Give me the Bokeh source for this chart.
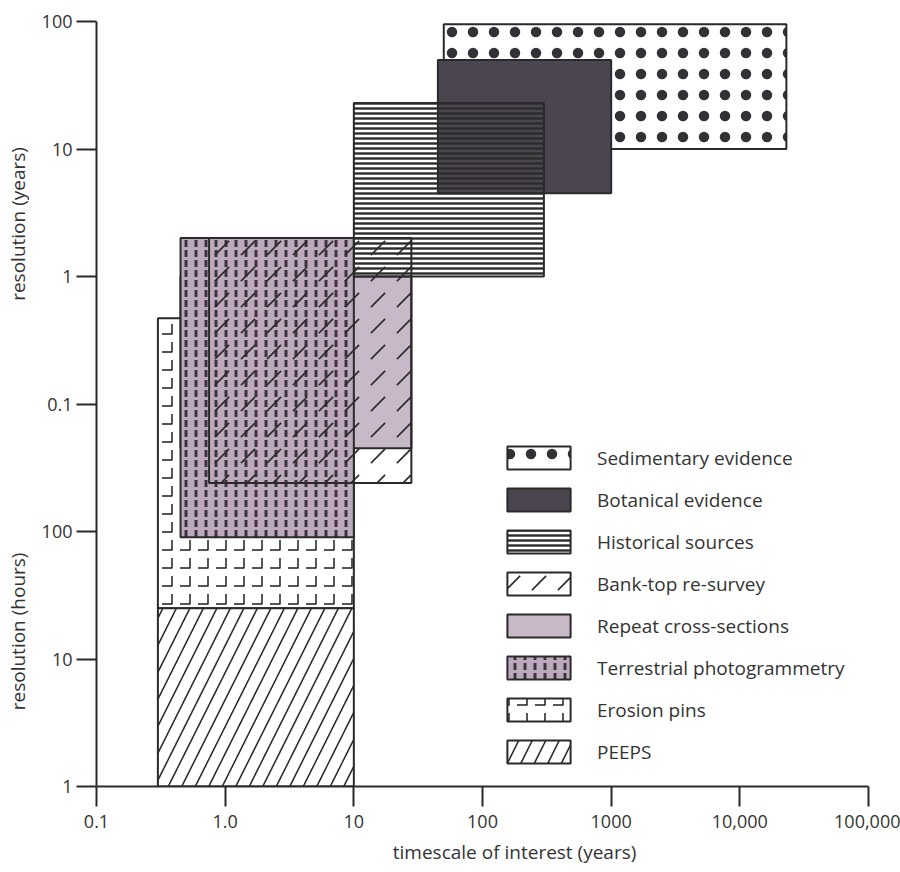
import math
from bokeh.plotting import figure
from bokeh.models import (ColumnDataSource, FixedTicker, Legend, LegendItem)
from bokeh.embed import file_html
from bokeh.resources import INLINE

# ---------------- data ----------------
methods = ["Sedimentary evidence", "Botanical evidence", "Historical sources", "Bank-top re-survey",
           "Repeat cross-sections", "Terrestrial photogrammetry", "Erosion pins", "PEEPS"]
# timescale of interest (years)
time_min = [50, 45, 10, 0.75, 0.45, 0.45, 0.3, 0.3]
time_max = [23000, 1000, 300, 28, 28, 10, 10, 10]
# resolution (value + unit; "h" = hours, "yr" = years)
res_min = [10, 4.5, 1.0, 0.024, 0.045, 90, 25, 1]
res_min_unit = ["yr", "yr", "yr", "yr", "yr", "h", "h", "h"]
res_max = [95, 50, 23, 2.0, 1.0, 2.0, 0.47, 25]
res_max_unit = ["yr", "yr", "yr", "yr", "yr", "yr", "yr", "h"]

x_ticks = [0.1, 1, 10, 100, 1000, 10000, 100000]
x_tick_labels = ["0.1", "1.0", "10", "100", "1000", "10,000", "100,000"]
y_ticks = [1, 10, 100, 1000, 10000, 100000, 1000000]
y_tick_labels = ["1", "10", "100", "0.1", "1", "10", "100"]

# schematic composite scale: hours below, years above (0.1 yr one decade above 100 h)
def to_axis(v, unit):
    return v if unit == "h" else v * 1e4

TXT = "#333333"
LINE = "#2a2a2a"
HATCH = "#2b2b2b"
FONT = "Open Sans"
NB = "\u00a0"

p = figure(width=900, height=872, x_axis_type="log", y_axis_type="log",
           x_range=(0.1, 1e5), y_range=(1, 1e6), output_backend="svg",
           toolbar_location=None, min_border_left=96, min_border_right=32,
           min_border_top=21, min_border_bottom=86)
p.outline_line_color = None
p.xgrid.visible = False
p.ygrid.visible = False
p.background_fill_color = "white"

# each method: list of layers (last layer carries the outline)
styles = {
    "Sedimentary evidence": [dict(fill_color="white", hatch_pattern="dot", hatch_scale=21, hatch_color="#333036")],
    "Botanical evidence": [dict(fill_color="#4b4550")],
    "Historical sources": [dict(fill_alpha=0, hatch_pattern="horizontal_line", hatch_scale=5, hatch_weight=2.4, hatch_color=HATCH)],
    "Bank-top re-survey": [dict(fill_alpha=0, hatch_pattern="right_diagonal_dash", hatch_scale=26, hatch_weight=1.7, hatch_color=HATCH)],
    "Repeat cross-sections": [dict(fill_color="#c7b9c7")],
    "Terrestrial photogrammetry": [dict(fill_color="#bcaabc", hatch_pattern="vertical_dash", hatch_scale=10, hatch_weight=3, hatch_color="#3b3340")],
    "Erosion pins": [dict(fill_color="white", hatch_pattern="horizontal_dash", hatch_scale=18, hatch_weight=1.6, hatch_color=HATCH),
                     dict(fill_alpha=0, hatch_pattern="vertical_dash", hatch_scale=18, hatch_weight=1.6, hatch_color=HATCH)],
    "PEEPS": [dict(fill_color="white", hatch_pattern="right_diagonal_line", hatch_scale=27, hatch_weight=1.6, hatch_color=HATCH)],
}

draw_order = ["Erosion pins", "PEEPS", "Repeat cross-sections", "Terrestrial photogrammetry",
              "Sedimentary evidence", "Botanical evidence", "Historical sources", "Bank-top re-survey"]

renderers = {}
for name in draw_order:
    i = methods.index(name)
    src = ColumnDataSource(dict(
        left=[time_min[i]], right=[time_max[i]],
        bottom=[to_axis(res_min[i], res_min_unit[i])],
        top=[to_axis(res_max[i], res_max_unit[i])]))
    layers = styles[name]
    rs = []
    for k, st in enumerate(layers):
        line = dict(line_color=LINE, line_width=2) if k == len(layers) - 1 else dict(line_color=None)
        rs.append(p.quad(left="left", right="right", bottom="bottom", top="top", source=src, **line, **st))
    renderers[name] = rs

legend = Legend(items=[LegendItem(label=m, renderers=renderers[m]) for m in methods],
                location=(403, 20), glyph_width=79, glyph_height=29, spacing=13,
                padding=0, margin=0, label_standoff=19, border_line_color=None,
                background_fill_alpha=0, label_text_font=FONT, label_text_font_size="19px",
                label_text_color=TXT, label_height=29)
p.add_layout(legend)

# ---------------- axes ----------------
for ax, ticks, labels in ((p.xaxis[0], x_ticks, x_tick_labels), (p.yaxis[0], y_ticks, y_tick_labels)):
    ax.ticker = FixedTicker(ticks=ticks, minor_ticks=[])
    ax.major_label_overrides = {t: l for t, l in zip(ticks, labels)}
    ax.axis_line_color = LINE
    ax.axis_line_width = 2
    ax.major_tick_line_color = LINE
    ax.major_tick_line_width = 2
    ax.major_tick_in = 0
    ax.major_tick_out = 20
    ax.minor_tick_line_color = None
    ax.major_label_text_font = FONT
    ax.major_label_text_font_size = "18px"
    ax.major_label_text_color = TXT
    ax.axis_label_text_font = FONT
    ax.axis_label_text_font_size = "19px"
    ax.axis_label_text_font_style = "normal"
    ax.axis_label_text_color = TXT
p.xaxis[0].major_label_standoff = 8
p.yaxis[0].major_label_standoff = 4

# two vertical titles share the left axis (hours at the bottom, years at the top)
p.yaxis[0].axis_label = "resolution (hours)" + NB * 51 + "resolution (years)" + NB * 10
p.yaxis[0].axis_label_standoff = 8
p.xaxis[0].axis_label = NB * 13 + "timescale of interest (years)"
p.xaxis[0].axis_label_standoff = 8

open("out.html", "w").write(file_html(p, INLINE))
